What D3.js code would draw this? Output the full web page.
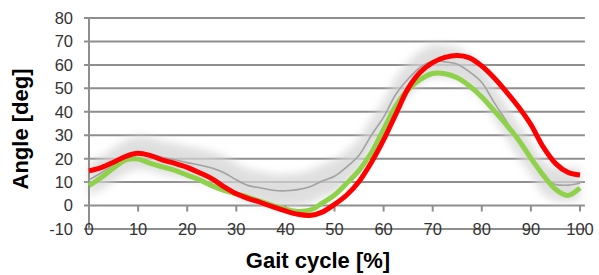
<!DOCTYPE html>
<html>
<head>
<meta charset="utf-8">
<script src="https://cdn.jsdelivr.net/npm/d3@7"></script>
<style>
html,body{margin:0;padding:0;background:#fff;}
svg{display:block;}
</style>
</head>
<body>
<svg id="chart" width="599" height="275"></svg>
<script>
const gaitCycle = [0,2.5,5,7.5,10,12.5,15,17.5,20,22.5,25,27.5,30,32.5,35,37.5,40,42.5,45,47.5,50,52.5,55,57.5,60,62.5,65,67.5,70,72.5,75,77.5,80,82.5,85,87.5,90,92.5,95,97.5,100];
const redSeries = [14.8,16.2,18.5,21,22.3,21.3,19.4,18,16.3,14,11.5,8,5,3,1.3,-0.6,-2.3,-3.7,-4.2,-2.8,0.5,4.5,10.3,18.4,28,39,50,57,61,63.2,64,63,59.5,54.5,48.5,42,34.5,25,18,14.2,13];
const greenSeries = [8.5,12,16,19.5,19.8,18,16.5,15,13,11,8.5,6.5,5,3.5,1.8,0,-1.5,-2.5,-2,1,4.5,9.5,15,22.5,32.5,42.5,49.5,53.8,56.3,56.2,54.5,51,46.3,40.5,34.5,28,20.2,13,7,4.3,7.5];
const graySeries = [11,14,17.5,21,22.5,22,20.5,19.5,18.3,17.3,16,14,11,8.5,7.5,6.5,6.3,6.8,8,10.5,12.5,16.5,21.5,30,37.7,47.5,54,59,61.5,61.3,60.3,57,52.5,44,36,27.5,20.2,12,9,8.7,9.5];
const grayBand = 7;
const xTicks = [0,10,20,30,40,50,60,70,80,90,100];
const yTicks = [-10,0,10,20,30,40,50,60,70,80];

const svg = d3.select("#chart");
const x = d3.scaleLinear().domain([0,100]).range([89,580]);
const y = d3.scaleLinear().domain([-10,80]).range([229,18]);
const gridRight = x(101);
const gridCol = "#8e8e8e";

const defs = svg.append("defs");
defs.append("filter").attr("id","blur").attr("x","-20%").attr("y","-20%").attr("width","140%").attr("height","140%")
  .append("feGaussianBlur").attr("stdDeviation",4);

// gridlines
svg.append("g").selectAll("line").data(yTicks).join("line")
  .attr("x1",84).attr("x2",gridRight)
  .attr("y1",d=>y(d)).attr("y2",d=>y(d))
  .attr("stroke",gridCol).attr("stroke-width",2);

// band around normal reference
const pts = gaitCycle.map((g,i)=>({g, v:graySeries[i]}));
svg.append("path").datum(pts)
  .attr("d", d3.area().x(d=>x(d.g)).y0(d=>y(d.v-grayBand)).y1(d=>y(d.v+grayBand)).curve(d3.curveCatmullRom))
  .attr("fill","#d4d4d4").attr("opacity",0.75).attr("filter","url(#blur)");

// y axis
svg.append("line").attr("x1",89).attr("x2",89).attr("y1",y(80)).attr("y2",y(-10))
  .attr("stroke",gridCol).attr("stroke-width",2);
// x ticks at y=0
svg.append("g").selectAll("line").data(xTicks).join("line")
  .attr("x1",d=>x(d)).attr("x2",d=>x(d)).attr("y1",y(0)).attr("y2",y(0)+6)
  .attr("stroke",gridCol).attr("stroke-width",2);

const line = d3.line().x((d,i)=>x(gaitCycle[i])).y(d=>y(d)).curve(d3.curveCatmullRom);
svg.append("path").datum(graySeries).attr("d",line).attr("fill","none").attr("stroke","#a2a2a2").attr("stroke-width",1.6);
svg.append("path").datum(greenSeries).attr("d",line).attr("fill","none").attr("stroke","#8fd14b").attr("stroke-width",5).attr("stroke-linejoin","round");
svg.append("path").datum(redSeries).attr("d",line).attr("fill","none").attr("stroke","#ff0000").attr("stroke-width",5).attr("stroke-linejoin","round");

// tick labels
const tickFont = "'Liberation Sans', Arial, sans-serif";
svg.append("g").selectAll("text").data(yTicks).join("text")
  .attr("x",73).attr("y",d=>y(d)).attr("dy","0.36em").attr("text-anchor","end")
  .attr("font-family",tickFont).attr("font-size",16.5).attr("fill","#333")
  .text(d=>d);
svg.append("g").selectAll("text").data(xTicks).join("text")
  .attr("x",d=>x(d)).attr("y",y(-10)).attr("dy","0.36em").attr("text-anchor","middle")
  .attr("font-family",tickFont).attr("font-size",16.5).attr("fill","#333")
  .text(d=>d);

// titles
svg.append("text").attr("x",318).attr("y",268).attr("text-anchor","middle")
  .attr("font-family","'Liberation Sans', Arial, sans-serif").attr("font-weight","bold").attr("font-size",22).attr("fill","#000")
  .text("Gait cycle [%]");
svg.append("text").attr("transform","translate(28,129) rotate(-90)").attr("text-anchor","middle")
  .attr("font-family","'Liberation Sans', Arial, sans-serif").attr("font-weight","bold").attr("font-size",22).attr("fill","#000")
  .text("Angle [deg]");
</script>
</body>
</html>
